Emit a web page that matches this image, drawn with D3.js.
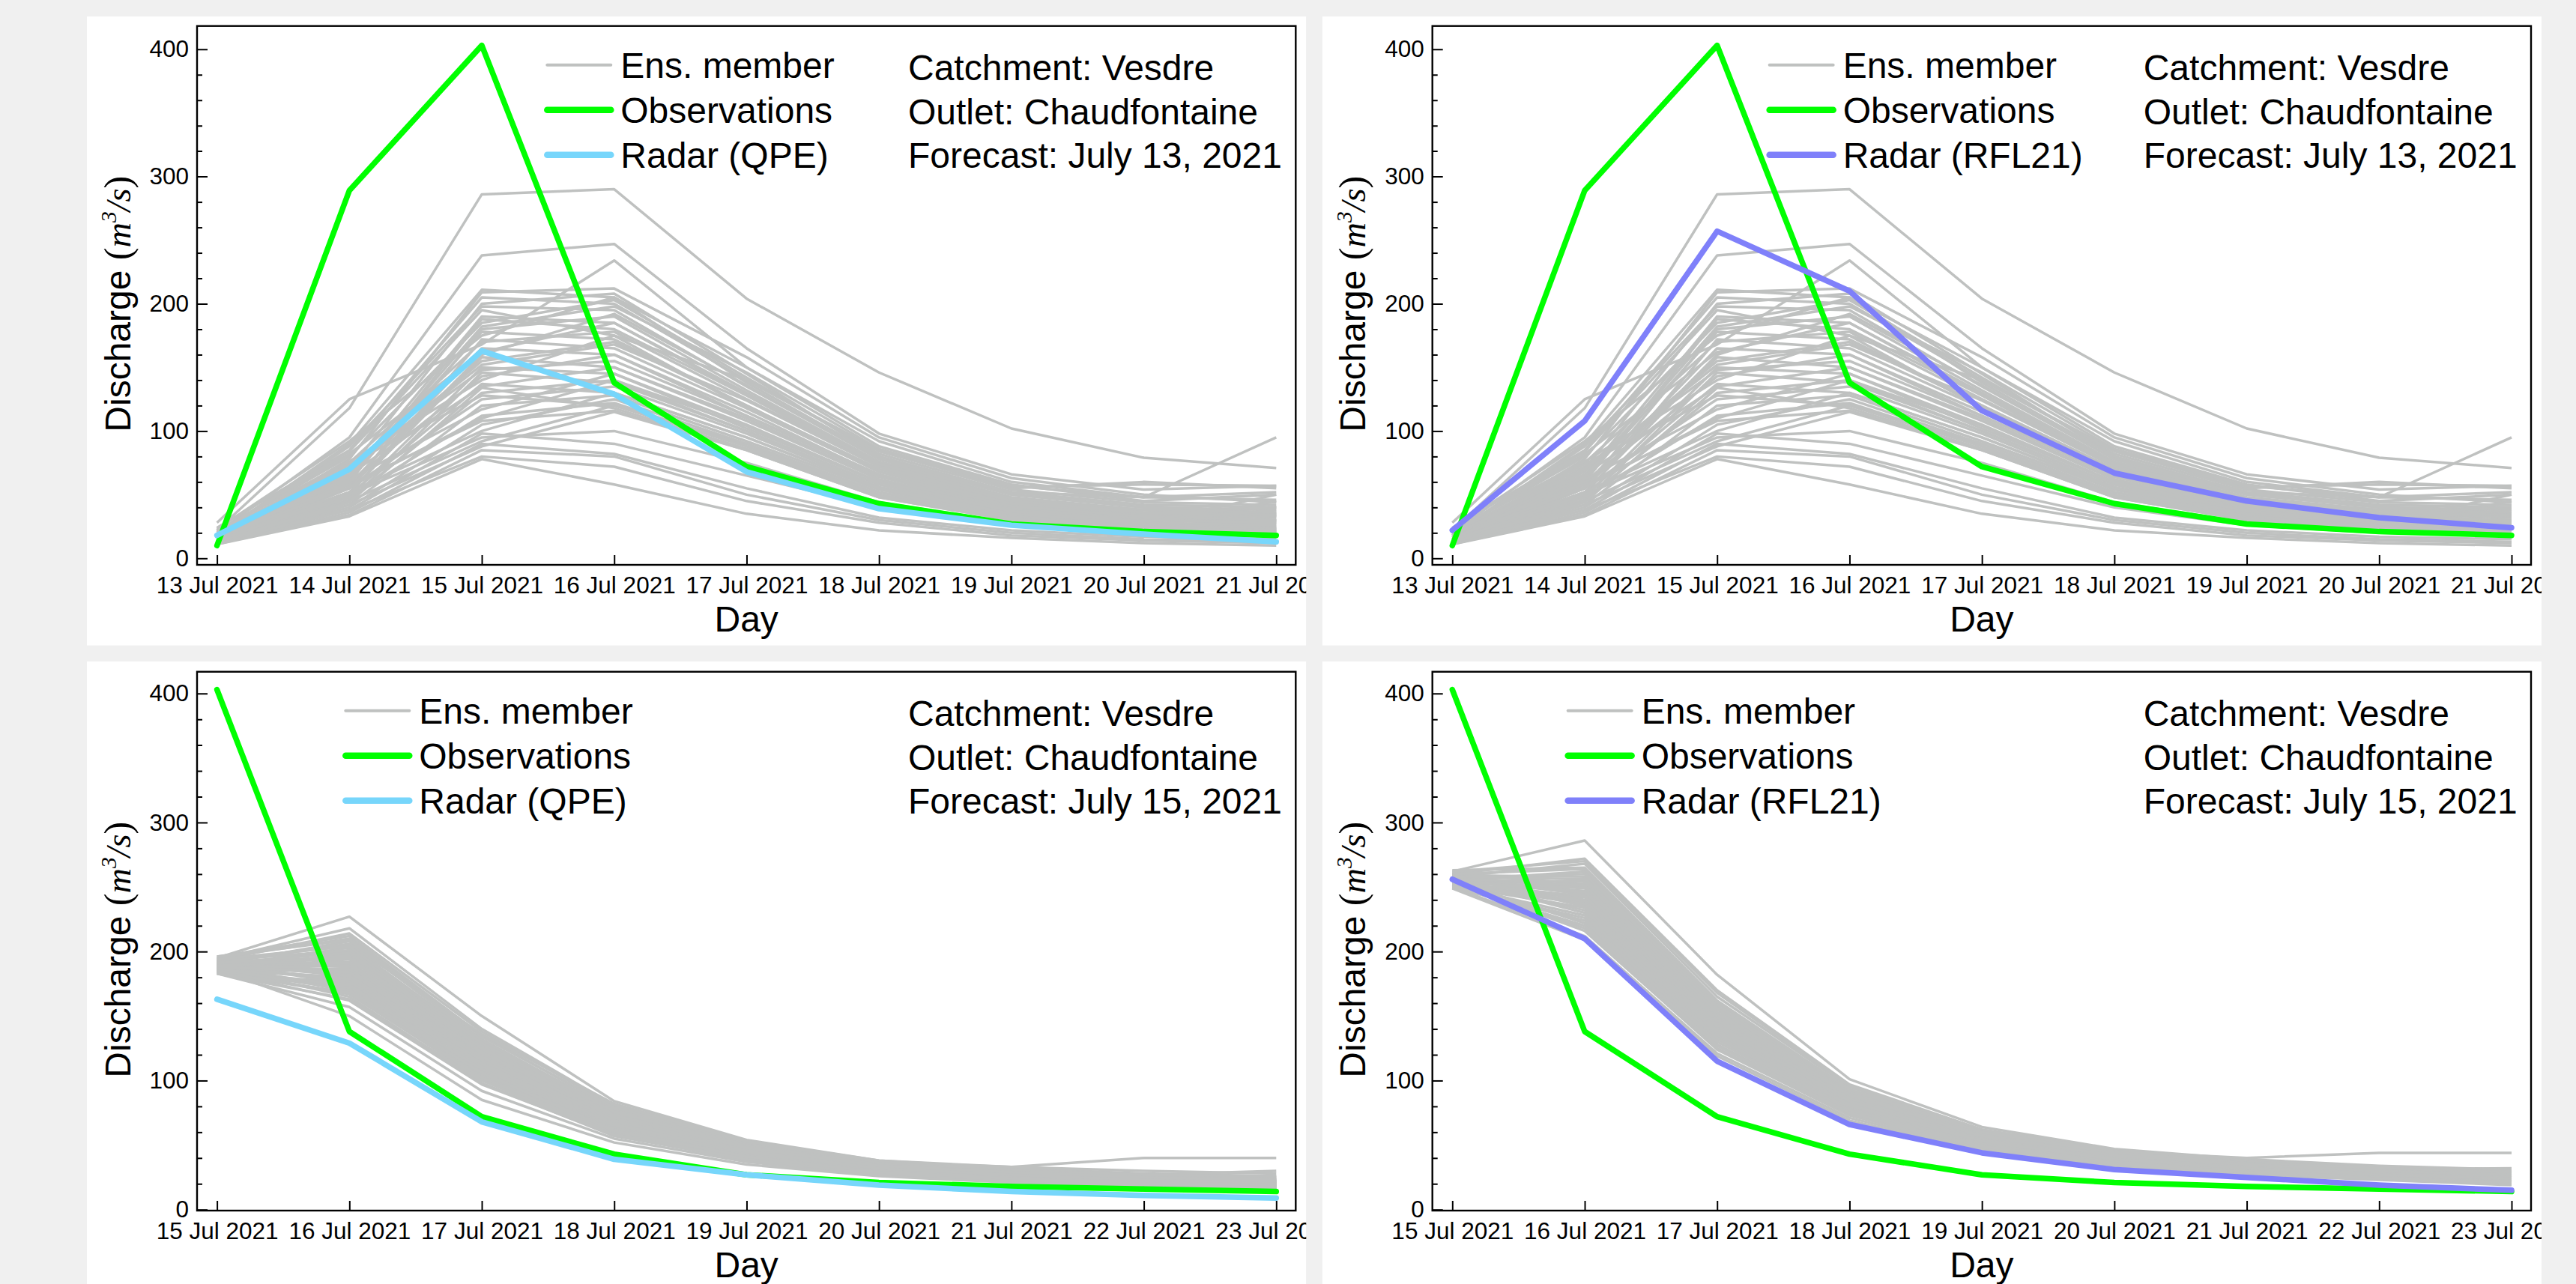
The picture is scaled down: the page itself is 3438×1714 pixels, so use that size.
<!DOCTYPE html>
<html>
<head>
<meta charset="utf-8">
<script src="https://cdn.jsdelivr.net/npm/d3@7"></script>
<style>
  body { margin: 0; background: #f0f0f0; }
  svg { display: block; }
  text { font-family: "Liberation Sans", Arial, Helvetica, sans-serif; fill: #000; }
</style>
</head>
<body>
<svg id="chart" width="3438" height="1714"></svg>
<script>
// forecast days shown on the x axis
var days13 = ['2021-07-13', '2021-07-14', '2021-07-15', '2021-07-16', '2021-07-17', '2021-07-18', '2021-07-19', '2021-07-20', '2021-07-21']
var days15 = ['2021-07-15', '2021-07-16', '2021-07-17', '2021-07-18', '2021-07-19', '2021-07-20', '2021-07-21', '2021-07-22', '2021-07-23']

// observed discharge at Chaudfontaine, 13 -> 23 Jul
var observations = [10, 289, 403, 138, 72, 43, 27, 21, 18, 16, 14]

// radar driven simulations
var qpe13 = [18, 70, 163, 129, 68, 39, 26, 19, 13]
var rfl13 = [22, 108, 257, 210, 116, 67, 45, 32, 24]
var qpe15 = [163, 129, 68, 39, 27, 19, 14, 11, 9]
var rfl15 = [256, 210, 115, 66, 44, 31, 25, 19, 15]

// ensemble members, forecast of July 13
var ens13 = [
  [22, 118, 286, 290, 204, 146, 102, 79, 71],
  [20, 95, 238, 247, 165, 98, 66, 54, 57],
  [28, 125, 168, 234, 150, 92, 60, 48, 52],
  [18, 90, 211, 205, 150, 88, 58, 45, 50],
  [16, 78, 209, 212, 158, 95, 63, 50, 44],
  [24, 85, 205, 200, 140, 85, 55, 60, 55],
  [15, 70, 200, 208, 145, 80, 52, 42, 40],
  [19, 88, 198, 195, 135, 78, 50, 40, 36],
  [17, 65, 190, 185, 130, 75, 48, 38, 35],
  [14, 60, 188, 180, 128, 72, 45, 36, 33],
  [21, 80, 185, 203, 142, 82, 54, 44, 42],
  [13, 55, 180, 190, 132, 76, 50, 40, 38],
  [16, 62, 178, 172, 120, 70, 44, 35, 32],
  [23, 92, 175, 205, 138, 80, 52, 42, 40],
  [12, 50, 172, 165, 118, 68, 42, 34, 30],
  [18, 75, 170, 178, 125, 73, 46, 38, 34],
  [15, 58, 165, 160, 115, 65, 40, 33, 29],
  [20, 82, 162, 185, 128, 74, 47, 38, 36],
  [14, 52, 158, 150, 110, 62, 38, 30, 27],
  [17, 68, 155, 170, 120, 70, 44, 35, 33],
  [13, 48, 150, 145, 105, 60, 37, 28, 25],
  [19, 72, 148, 155, 112, 64, 40, 32, 30],
  [12, 45, 146, 138, 100, 58, 35, 27, 24],
  [16, 60, 143, 160, 112, 66, 41, 33, 30],
  [22, 76, 140, 175, 118, 68, 43, 36, 40],
  [14, 50, 137, 130, 95, 55, 34, 26, 23],
  [18, 66, 135, 150, 108, 62, 39, 31, 28],
  [13, 46, 130, 140, 100, 58, 36, 28, 26],
  [20, 74, 128, 120, 90, 52, 32, 25, 22],
  [15, 55, 125, 135, 98, 56, 35, 27, 45],
  [12, 42, 120, 128, 92, 54, 33, 26, 24],
  [17, 62, 117, 145, 102, 60, 38, 30, 28],
  [14, 48, 112, 122, 88, 50, 31, 24, 21],
  [19, 58, 108, 116, 85, 48, 30, 23, 20],
  [13, 40, 105, 125, 90, 52, 33, 25, 23],
  [16, 52, 100, 130, 95, 55, 35, 28, 50],
  [12, 38, 98, 90, 65, 40, 26, 20, 18],
  [15, 45, 92, 120, 88, 50, 32, 25, 22],
  [11, 36, 90, 82, 55, 32, 22, 17, 15],
  [14, 42, 88, 115, 85, 48, 30, 23, 21],
  [12, 34, 85, 80, 50, 30, 20, 15, 13],
  [13, 38, 80, 72, 45, 28, 18, 14, 12],
  [11, 33, 78, 58, 35, 22, 16, 12, 10],
  [17, 55, 160, 192, 136, 78, 52, 48, 95],
  [20, 84, 195, 175, 140, 84, 56, 58, 57],
  [15, 64, 182, 198, 146, 86, 57, 48, 46],
  [18, 70, 152, 168, 124, 72, 45, 36, 34],
  [13, 44, 134, 118, 86, 49, 31, 24, 21],
  [16, 56, 110, 140, 104, 60, 37, 29, 38],
  [14, 50, 95, 100, 75, 44, 28, 22, 19]
]

// ensemble members, forecast of July 15 with QPE initial state
var ensQpe15 = [
  [195, 227, 150, 84, 54, 38, 32, 28, 26],
  [193, 214, 138, 80, 52, 37, 31, 27, 25],
  [196, 212, 135, 78, 51, 36, 30, 26, 24],
  [190, 208, 132, 76, 50, 36, 30, 26, 23],
  [192, 205, 130, 75, 49, 35, 29, 25, 23],
  [188, 203, 128, 74, 49, 35, 29, 25, 22],
  [194, 200, 126, 73, 48, 34, 28, 24, 22],
  [186, 198, 125, 72, 48, 34, 28, 24, 21],
  [191, 196, 123, 72, 47, 34, 28, 24, 21],
  [185, 194, 122, 71, 47, 33, 27, 23, 21],
  [189, 192, 120, 70, 46, 33, 27, 23, 20],
  [187, 190, 118, 69, 46, 33, 27, 23, 20],
  [193, 188, 117, 68, 45, 32, 27, 23, 20],
  [184, 187, 116, 68, 45, 32, 26, 22, 19],
  [190, 185, 115, 67, 44, 32, 26, 22, 19],
  [188, 183, 114, 66, 44, 31, 26, 22, 19],
  [192, 182, 113, 66, 43, 31, 26, 22, 19],
  [186, 180, 112, 65, 43, 31, 25, 21, 18],
  [189, 178, 110, 64, 43, 31, 25, 21, 18],
  [183, 176, 108, 63, 42, 30, 25, 21, 18],
  [191, 175, 107, 63, 42, 30, 25, 21, 18],
  [187, 173, 106, 62, 41, 30, 25, 21, 17],
  [185, 171, 104, 61, 41, 30, 24, 20, 17],
  [190, 169, 103, 60, 40, 29, 24, 20, 17],
  [184, 167, 101, 59, 40, 29, 24, 20, 17],
  [188, 165, 98, 57, 39, 28, 23, 19, 16],
  [183, 157, 92, 55, 37, 27, 22, 19, 16],
  [186, 150, 85, 52, 35, 26, 21, 18, 15],
  [195, 210, 134, 79, 52, 37, 33, 40, 40],
  [192, 206, 136, 82, 53, 38, 33, 30, 28],
  [194, 218, 140, 81, 53, 37, 31, 27, 30],
  [189, 197, 128, 75, 50, 36, 30, 27, 26],
  [186, 186, 119, 70, 46, 33, 28, 24, 22],
  [191, 181, 116, 67, 45, 32, 27, 23, 21],
  [188, 172, 109, 64, 42, 31, 26, 22, 19],
  [185, 162, 97, 58, 38, 28, 23, 19, 16],
  [193, 201, 127, 74, 48, 34, 28, 24, 22],
  [187, 189, 121, 71, 47, 33, 28, 24, 21],
  [190, 177, 111, 65, 43, 31, 26, 22, 20],
  [184, 168, 102, 60, 40, 29, 24, 20, 18],
  [196, 209, 131, 77, 50, 35, 29, 25, 23],
  [189, 195, 124, 72, 47, 34, 28, 24, 22],
  [186, 179, 113, 66, 44, 31, 26, 22, 20],
  [192, 191, 122, 71, 46, 33, 27, 23, 21],
  [183, 163, 100, 58, 39, 28, 23, 19, 17],
  [188, 184, 118, 69, 45, 32, 27, 23, 20],
  [194, 204, 129, 76, 49, 35, 29, 25, 24],
  [185, 174, 105, 62, 41, 30, 25, 21, 19],
  [191, 199, 125, 73, 48, 34, 29, 25, 23],
  [187, 170, 106, 61, 41, 29, 24, 20, 18]
]

// ensemble members, forecast of July 15 with RFL21 initial state
var ensRfl15 = [
  [262, 286, 182, 101, 64, 47, 39, 34, 31],
  [260, 272, 170, 97, 62, 46, 38, 33, 30],
  [258, 268, 165, 95, 61, 45, 37, 32, 29],
  [263, 265, 162, 93, 60, 44, 37, 32, 28],
  [255, 262, 160, 92, 59, 44, 36, 31, 28],
  [259, 258, 157, 90, 58, 43, 36, 31, 27],
  [252, 255, 155, 89, 58, 43, 35, 30, 27],
  [261, 252, 152, 88, 57, 42, 35, 30, 26],
  [257, 250, 150, 87, 56, 42, 34, 29, 26],
  [254, 247, 148, 86, 56, 41, 34, 29, 25],
  [256, 245, 146, 85, 55, 41, 34, 29, 25],
  [250, 242, 144, 84, 55, 40, 33, 28, 24],
  [258, 240, 142, 83, 54, 40, 33, 28, 24],
  [253, 238, 140, 82, 53, 39, 32, 27, 23],
  [260, 236, 138, 81, 53, 39, 32, 27, 23],
  [251, 234, 136, 80, 52, 38, 31, 26, 22],
  [256, 230, 134, 79, 52, 38, 31, 26, 22],
  [249, 226, 132, 78, 51, 37, 30, 26, 22],
  [255, 222, 128, 76, 50, 37, 30, 25, 21],
  [252, 218, 125, 74, 49, 36, 29, 25, 21],
  [250, 212, 121, 71, 47, 35, 28, 24, 20],
  [249, 209, 119, 69, 46, 34, 27, 23, 19],
  [262, 270, 168, 96, 62, 45, 40, 44, 44],
  [257, 260, 158, 91, 59, 44, 36, 31, 32],
  [254, 249, 149, 87, 56, 41, 35, 30, 31],
  [259, 244, 145, 85, 55, 40, 33, 28, 27],
  [253, 239, 141, 83, 54, 40, 33, 28, 26],
  [256, 232, 135, 80, 52, 38, 31, 27, 25],
  [251, 228, 133, 78, 51, 37, 30, 25, 22],
  [258, 256, 156, 90, 58, 43, 35, 30, 28],
  [255, 246, 147, 86, 56, 41, 34, 29, 26],
  [252, 237, 139, 82, 53, 39, 32, 27, 24],
  [260, 264, 161, 93, 60, 44, 36, 32, 29],
  [250, 224, 130, 77, 50, 37, 30, 25, 21],
  [254, 216, 124, 73, 48, 35, 29, 24, 20],
  [257, 251, 151, 88, 57, 42, 35, 29, 27],
  [253, 243, 143, 84, 54, 40, 33, 28, 25],
  [259, 235, 137, 81, 53, 39, 32, 27, 24],
  [251, 220, 127, 75, 49, 36, 29, 24, 21],
  [256, 254, 153, 89, 57, 42, 35, 30, 27]
]

var yTicks = [0, 100, 200, 300, 400]
var yMinor = [20, 40, 60, 80, 120, 140, 160, 180, 220, 240, 260, 280, 320, 340, 360, 380]

var ensColor = '#bfc1c0'
var obsColor = '#00ff00'

var panels = [
  { x: 116, y: 22, days: days13, obsOffset: 0, ens: ens13, radar: qpe13, color: '#77d6fb', radarLabel: 'Radar (QPE)', forecast: 'Forecast: July 13, 2021', top: 12.7, bottom: 732, y0: 723.3, y400: 43.7, legendCx: 659 },
  { x: 1764.7, y: 22, days: days13, obsOffset: 0, ens: ens13, radar: rfl13, color: '#7f80fa', radarLabel: 'Radar (RFL21)', forecast: 'Forecast: July 13, 2021', top: 12.7, bottom: 732, y0: 723.3, y400: 43.7, legendCx: 659 },
  { x: 116, y: 882.7, days: days15, obsOffset: 2, ens: ensQpe15, radar: qpe15, color: '#77d6fb', radarLabel: 'Radar (QPE)', forecast: 'Forecast: July 15, 2021', top: 14, bottom: 733.3, y0: 732, y400: 43, legendCx: 390 },
  { x: 1764.7, y: 882.7, days: days15, obsOffset: 2, ens: ensRfl15, radar: rfl15, color: '#7f80fa', radarLabel: 'Radar (RFL21)', forecast: 'Forecast: July 15, 2021', top: 14, bottom: 733.3, y0: 732, y400: 43, legendCx: 390 }
]

var panelW = 1627.3
var panelH = 839.7
var frameL = 147
var frameR = 1613.3

var parseDay = d3.utcParse('%Y-%m-%d')
var fmtDay = d3.utcFormat('%-d %b %Y')

var svg = d3.select('#chart')
svg.append('rect').attr('width', 3438).attr('height', 1714).attr('fill', '#f0f0f0')

panels.forEach(function(p, i) {
  var clipId = 'panel-clip-' + i
  svg.append('clipPath').attr('id', clipId)
    .append('rect').attr('width', panelW).attr('height', panelH)

  var g = svg.append('g')
    .attr('transform', 'translate(' + p.x + ',' + p.y + ')')
    .attr('clip-path', 'url(#' + clipId + ')')

  g.append('rect').attr('width', panelW).attr('height', panelH).attr('fill', '#fff')

  var dates = p.days.map(parseDay)
  var xScale = d3.scaleUtc()
    .domain([dates[0], dates[dates.length - 1]])
    .range([frameL + 26.6, frameL + 1440.3])
  var yScale = d3.scaleLinear()
    .domain([0, 400])
    .range([p.y0, p.y400])

  var line = d3.line()
    .x(function(d, j) { return xScale(dates[j]) })
    .y(function(d) { return yScale(d) })

  // ensemble spaghetti
  g.append('g').selectAll('path')
    .data(p.ens)
    .join('path')
    .attr('d', line)
    .attr('fill', 'none')
    .attr('stroke', ensColor)
    .attr('stroke-width', 3.5)
    .attr('stroke-linejoin', 'round')

  var obs = observations.slice(p.obsOffset, p.obsOffset + dates.length)
  g.append('path')
    .attr('d', line(obs))
    .attr('fill', 'none')
    .attr('stroke', obsColor)
    .attr('stroke-width', 7.5)
    .attr('stroke-linejoin', 'round')
    .attr('stroke-linecap', 'round')

  g.append('path')
    .attr('d', line(p.radar))
    .attr('fill', 'none')
    .attr('stroke', p.color)
    .attr('stroke-width', 7.5)
    .attr('stroke-linejoin', 'round')
    .attr('stroke-linecap', 'round')

  // axes (ticks point inward)
  g.append('g')
    .attr('transform', 'translate(' + frameL + ',0)')
    .call(d3.axisLeft(yScale).tickValues(yTicks).tickSizeInner(-14).tickSizeOuter(0).tickPadding(11))
  g.append('g')
    .attr('transform', 'translate(' + frameL + ',0)')
    .call(d3.axisLeft(yScale).tickValues(yMinor).tickSizeInner(-7).tickSizeOuter(0).tickFormat(''))
  g.append('g')
    .attr('transform', 'translate(0,' + p.bottom + ')')
    .call(d3.axisBottom(xScale).tickValues(dates).tickFormat(fmtDay).tickSizeInner(-13).tickSizeOuter(0).tickPadding(16))

  g.selectAll('.domain').remove()
  g.selectAll('.tick line').attr('stroke', '#000').attr('stroke-width', 2)
  g.selectAll('.tick text')
    .attr('font-family', '"Liberation Sans", Arial, sans-serif')
    .attr('font-size', 31.5)
    .attr('fill', '#000')

  // frame
  g.append('rect')
    .attr('x', frameL).attr('y', p.top)
    .attr('width', frameR - frameL).attr('height', p.bottom - p.top)
    .attr('fill', 'none').attr('stroke', '#000').attr('stroke-width', 2.4)

  // axis titles
  g.append('text')
    .attr('x', (frameL + frameR) / 2)
    .attr('y', p.bottom + 88.7)
    .attr('text-anchor', 'middle')
    .attr('font-size', 48)
    .text('Day')

  var ylab = g.append('text')
    .attr('transform', 'translate(' + (frameL - 89.5) + ',' + (p.top + 542) + ') rotate(-90)')
    .attr('font-size', 48)
  ylab.append('tspan').text('Discharge ')
  var serif = '"Liberation Serif", "DejaVu Serif", serif'
  var mathParts = [
    { t: '(', size: 54, italic: false, dy: 0 },
    { t: 'm', size: 50, italic: true, dy: 0 },
    { t: '3', size: 32, italic: true, dy: -20 },
    { t: '/', size: 50, italic: true, dy: 20 },
    { t: 's', size: 50, italic: true, dy: 0 },
    { t: ')', size: 54, italic: false, dy: 0 }
  ]
  var mathSpans = ylab.selectAll('tspan.math')
    .data(mathParts)
    .join('tspan')
    .attr('class', 'math')
    .attr('font-family', serif)
    .attr('font-style', function(d) { return d.italic ? 'italic' : 'normal' })
    .attr('font-size', function(d) { return d.size })
    .attr('dy', function(d) { return d.dy })
    .text(function(d) { return d.t })
  // stretch the math part so the whole title spans ~342px like the original
  var node = ylab.node()
  var total = node.getComputedTextLength()
  var words = node.getSubStringLength(0, 10)
  var k = (342 - words) / Math.max(1, total - words)
  k = Math.max(0.8, Math.min(1.6, k))
  mathSpans
    .attr('font-size', function(d) { return d.size * k })
    .attr('dy', function(d) { return d.dy * k })

  // legend, centred on legendCx
  var items = [
    { label: 'Ens. member', color: ensColor, w: 4 },
    { label: 'Observations', color: obsColor, w: 8.5 },
    { label: p.radarLabel, color: p.color, w: 8.5 }
  ]
  var rowY = [52, 112, 172]
  var leg = g.append('g')
  var labels = leg.selectAll('text')
    .data(items)
    .join('text')
    .attr('y', function(d, j) { return p.top + rowY[j] + 17 })
    .attr('font-size', 48)
    .text(function(d) { return d.label })
  var maxW = d3.max(labels.nodes(), function(n) { return n.getComputedTextLength() })
  var lineLen = 85, gap = 13
  var legLeft = frameL + p.legendCx - (lineLen + gap + maxW) / 2
  labels.attr('x', legLeft + lineLen + gap)
  leg.selectAll('line')
    .data(items)
    .join('line')
    .attr('x1', legLeft).attr('x2', legLeft + lineLen)
    .attr('y1', function(d, j) { return p.top + rowY[j] })
    .attr('y2', function(d, j) { return p.top + rowY[j] })
    .attr('stroke', function(d) { return d.color })
    .attr('stroke-width', function(d) { return d.w })
    .attr('stroke-linecap', 'round')

  // catchment info
  var info = ['Catchment: Vesdre', 'Outlet: Chaudfontaine', p.forecast]
  g.append('g').selectAll('text')
    .data(info)
    .join('text')
    .attr('x', frameL + 949)
    .attr('y', function(d, j) { return p.top + [72, 131, 189][j] })
    .attr('font-size', 48)
    .text(function(d) { return d })
})
</script>
</body>
</html>
